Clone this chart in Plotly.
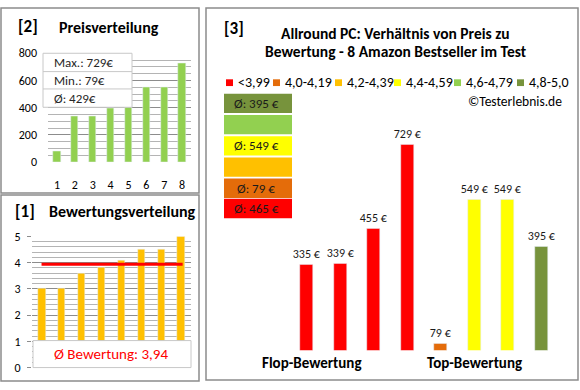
import plotly.graph_objects as go

W, H = 580, 390
FONT = "Carlito, Lato, 'Liberation Sans', sans-serif"

# ---------------- data ----------------
product_idx = [1, 2, 3, 4, 5, 6, 7, 8]
prices_sorted = [79, 335, 339, 395, 455, 549, 549, 729]
ratings_sorted = [3.0, 3.0, 3.6, 3.8, 4.1, 4.5, 4.5, 5.0]
avg_rating = 3.94
avg_rating_label = "Ø Bewertung: 3,94"
price_stats = ["Max.: 729€", "Min.: 79€", "Ø: 429€"]

right_prices = [335, 339, 455, 729, 79, 549, 549, 395]
right_class = [0, 0, 0, 0, 1, 3, 3, 5]
class_labels = ["<3,99", "4,0-4,19", "4,2-4,39", "4,4-4,59", "4,6-4,79", "4,8-5,0"]
class_colors = ["#FF0000", "#E46C0A", "#FFC000", "#FFFF00", "#92D050", "#77933C"]
class_avg_labels = ["Ø: 465 €", "Ø: 79 €", "", "Ø: 549 €", "", "Ø: 395 €"]
group_labels = ["Flop-Bewertung", "Top-Bewertung"]
right_axis_range = [57, 800]


def px(x):
    return x / W


def py(y):
    return 1 - y / H


fig = go.Figure()

fig.add_trace(go.Bar(x=product_idx, y=prices_sorted, marker_color="#92D050",
                     width=0.4, xaxis="x", yaxis="y", showlegend=False))
fig.add_trace(go.Bar(x=product_idx, y=ratings_sorted, marker_color="#FFC000",
                     width=0.36, xaxis="x2", yaxis="y2", showlegend=False))
fig.add_trace(go.Scatter(x=[0.98, 8.08], y=[avg_rating, avg_rating], mode="lines",
                         line=dict(color="#FF0000", width=3),
                         xaxis="x2", yaxis="y2", showlegend=False))
fig.add_trace(go.Bar(x=product_idx, y=right_prices,
                     marker_color=[class_colors[c] for c in right_class],
                     width=0.4, xaxis="x3", yaxis="y3", showlegend=False,
                     text=[f"{v} €" for v in right_prices], textposition="outside",
                     constraintext="none",
                     textfont=dict(family=FONT, size=12, color="#1a1a1a"),
                     cliponaxis=True))

grid_major = "#8c8c8c"
grid_minor = "#b4b4b4"
tickfont = dict(family=FONT, size=12, color="#000000")

fig.update_layout(
    width=W, height=H, margin=dict(l=0, r=0, t=0, b=0), autosize=False,
    paper_bgcolor="white", plot_bgcolor="rgba(0,0,0,0)",
    font=dict(family=FONT),
    bargap=0,
    xaxis=dict(domain=[px(48), px(191)], range=[0.5, 8.5], tickvals=product_idx,
               showgrid=False, zeroline=False, showline=False, ticks="",
               tickfont=tickfont, ticklabelstandoff=14, anchor="y"),
    yaxis=dict(domain=[py(161), py(48)], range=[0, 800], dtick=200,
               showgrid=True, gridcolor=grid_major, gridwidth=1, zeroline=False,
               minor=dict(dtick=50, showgrid=True, gridcolor=grid_minor, gridwidth=1),
               tickfont=tickfont, ticks="", ticklabelstandoff=10, anchor="x"),
    xaxis2=dict(domain=[px(32), px(191)], range=[0.5, 8.5], showticklabels=False,
                showgrid=False, zeroline=False, ticks="", anchor="y2"),
    yaxis2=dict(domain=[py(374), py(238)], range=[0, 5], dtick=1,
                showgrid=True, gridcolor=grid_major, gridwidth=1, zeroline=False,
                minor=dict(dtick=0.2, showgrid=True, gridcolor=grid_minor, gridwidth=1),
                ticks="outside", ticklen=4, tickcolor=grid_major,
                tickfont=tickfont, ticklabelstandoff=4, anchor="x2"),
    xaxis3=dict(domain=[px(290), px(558)], range=[0.5, 8.5], visible=False, anchor="y3"),
    yaxis3=dict(domain=[py(356), py(120)], range=right_axis_range, visible=False,
                anchor="x3"),
)

shapes = []
ann = []
border = "#8c8c8c"
for x0, y0, x1, y1 in [(1, 1, 199, 193), (1, 195, 199, 388), (206, 1, 578, 387)]:
    shapes.append(dict(type="rect", xref="paper", yref="paper",
                       x0=px(x0), x1=px(x1), y0=py(y1), y1=py(y0),
                       line=dict(color=border, width=1.5), fillcolor="rgba(0,0,0,0)"))

shapes.append(dict(type="rect", xref="paper", yref="paper",
                   x0=px(43), x1=px(132), y0=py(104), y1=py(48),
                   line=dict(color="#c8c8c8", width=1), fillcolor="white"))
for yy in (67, 85):
    shapes.append(dict(type="line", xref="paper", yref="paper",
                       x0=px(43), x1=px(132), y0=py(yy), y1=py(yy),
                       line=dict(color="#c8c8c8", width=1)))
for i, t in enumerate(price_stats):
    ann.append(dict(text=t, xref="paper", yref="paper", x=px(52), y=py(58 + i * 18.5),
                    xanchor="left", yanchor="middle", showarrow=False,
                    font=dict(family=FONT, size=13, color="#262626")))

shapes.append(dict(type="rect", xref="paper", yref="paper",
                   x0=px(33), x1=px(191), y0=py(374), y1=py(346),
                   line=dict(color="#c8c8c8", width=1), fillcolor="white"))
ann.append(dict(text=avg_rating_label, xref="paper", yref="paper", x=px(111), y=py(360),
                xanchor="center", yanchor="middle", showarrow=False,
                font=dict(family=FONT, size=15, color="#FF0000")))


def title(text, x, y, size, anchor="center"):
    ann.append(dict(text=text, xref="paper", yref="paper", x=px(x), y=py(y),
                    xanchor=anchor, yanchor="middle", showarrow=False,
                    font=dict(family=FONT, size=size, color="#000000")))


title("<b>[2]</b>", 28, 20, 17)
title("<b>Preisverteilung</b>", 109, 21, 16)
title("<b>[1]</b>", 25, 212, 17)
title("<b>Bewertungsverteilung</b>", 122, 212, 16)
title("<b>[3]</b>", 234, 22, 17)
title("<b>Allround PC: Verhältnis von Preis zu</b>", 395, 27, 15.5)
title("<b>Bewertung - 8 Amazon Bestseller im Test</b>", 396, 46, 15.5)
title("<b>" + group_labels[0] + "</b>", 312, 369, 15)
title("<b>" + group_labels[1] + "</b>", 474, 369, 15)
ann.append(dict(text="©Testerlebnis.de", xref="paper", yref="paper", x=px(564), y=py(98),
                xanchor="right", yanchor="middle", showarrow=False,
                font=dict(family=FONT, size=13.5, color="#000000")))

sq_x = [226, 273, 335, 394, 454, 517]
for i, lab in enumerate(class_labels):
    shapes.append(dict(type="rect", xref="paper", yref="paper",
                       x0=px(sq_x[i]), x1=px(sq_x[i] + 7), y0=py(82), y1=py(75),
                       line=dict(width=0), fillcolor=class_colors[i]))
    ann.append(dict(text=lab, xref="paper", yref="paper", x=px(sq_x[i] + 10), y=py(78),
                    xanchor="left", yanchor="middle", showarrow=False,
                    font=dict(family=FONT, size=14, color="#000000")))

box_tops = [199, 178, 156, 134, 112, 90]
for i in range(6):
    t = box_tops[i]
    shapes.append(dict(type="rect", xref="paper", yref="paper",
                       x0=px(224), x1=px(292), y0=py(t + 20), y1=py(t),
                       line=dict(width=0), fillcolor=class_colors[i]))
    if class_avg_labels[i]:
        ann.append(dict(text=class_avg_labels[i], xref="paper", yref="paper",
                        x=px(256), y=py(t + 10), xanchor="center", yanchor="middle",
                        showarrow=False, font=dict(family=FONT, size=13, color="#1a1a1a")))

fig.update_layout(shapes=shapes, annotations=ann)
fig.write_html("out.html", config={"displayModeBar": False},
               post_script="document.body.style.margin='0';document.body.style.padding='0';")
